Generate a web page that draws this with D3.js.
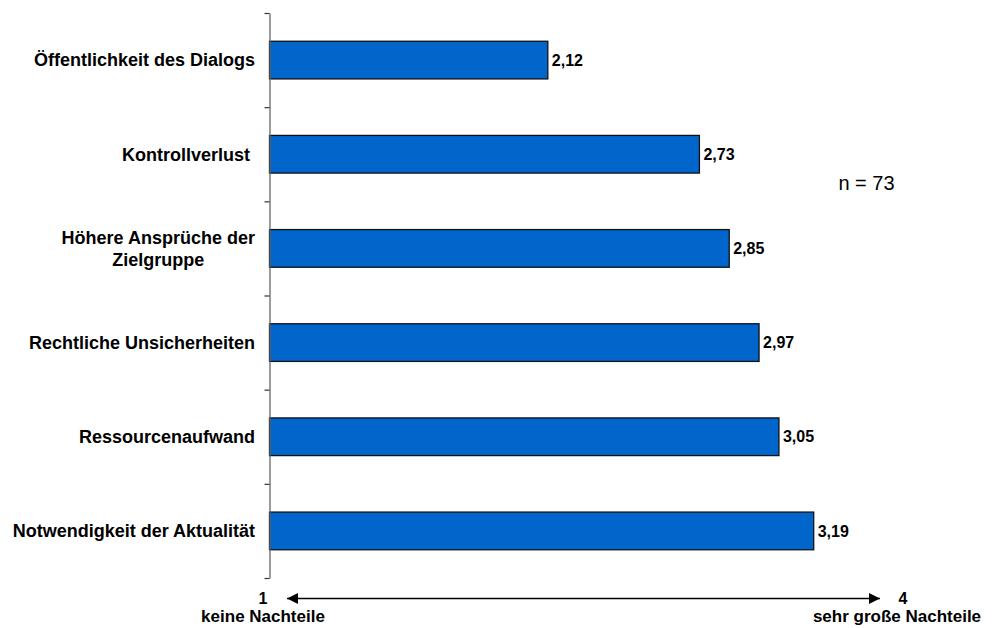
<!DOCTYPE html>
<html><head><meta charset="utf-8">
<script src="https://cdn.jsdelivr.net/npm/d3@7"></script>
<style>body{margin:0;background:#fff}svg{display:block}</style>
</head><body>
<svg id="c" width="1002" height="628"></svg>
<script>
const categories = [
  ["Öffentlichkeit des Dialogs"],
  ["Kontrollverlust\u00a0"],
  ["Höhere Ansprüche der", "Zielgruppe"],
  ["Rechtliche Unsicherheiten"],
  ["Ressourcenaufwand"],
  ["Notwendigkeit der Aktualität"]
];
const values = [2.12, 2.73, 2.85, 2.97, 3.05, 3.19];
const valueLabels = ["2,12", "2,73", "2,85", "2,97", "3,05", "3,19"];
const scaleEnds = [{v: "1", text: "keine Nachteile"}, {v: "4", text: "sehr große Nachteile"}];
const nLabel = "n = 73";

(function() {
const svg = d3.select("#c");
const font = "'Liberation Sans', Arial, sans-serif";
const plotTop = 13, plotBottom = 578, axisX = 269.5;

const x = d3.scaleLinear().domain([1, 4]).range([axisX, axisX + 3 * 248.5]);
const y = d3.scaleBand().domain(d3.range(categories.length)).range([plotTop, plotBottom]).paddingInner(0.6).paddingOuter(0.3);
const yTicks = d3.scaleLinear().domain([0, categories.length]).range([plotTop, plotBottom]);

svg.selectAll("rect.bar").data(values).join("rect")
  .attr("class", "bar")
  .attr("x", x(1))
  .attr("y", (d, i) => y(i))
  .attr("width", d => x(d) - x(1))
  .attr("height", y.bandwidth())
  .attr("fill", "#0066cc")
  .attr("stroke", "#111")
  .attr("stroke-width", 1.3);

const ax = svg.append("g").attr("transform", `translate(${axisX},0)`)
  .call(d3.axisLeft(yTicks).ticks(categories.length).tickSize(5).tickSizeOuter(0).tickFormat(""));
ax.select(".domain").attr("stroke", "#666").attr("stroke-width", 1.3);
ax.selectAll(".tick line").attr("stroke", "#333").attr("stroke-width", 1.2);

const lab = svg.selectAll("text.cat").data(categories).join("text")
  .attr("class", "cat")
  .attr("font-family", font).attr("font-weight", "bold").attr("font-size", 18)
  .attr("fill", "#000")
  .attr("transform", (d, i) => `translate(255,${y(i) + y.bandwidth() / 2})`);
lab.each(function(lines) {
  const t = d3.select(this);
  const lh = 22;
  const tmp = t.append("tspan").text(lines[0]);
  const widths = lines.map(l => { tmp.text(l); return tmp.node().getComputedTextLength(); });
  tmp.remove();
  const maxW = d3.max(widths);
  lines.forEach((l, k) => {
    t.append("tspan")
      .attr("x", -maxW / 2)
      .attr("text-anchor", "middle")
      .attr("y", (k - (lines.length - 1) / 2) * lh)
      .attr("dy", "0.35em")
      .text(l);
  });
});

svg.selectAll("text.val").data(values).join("text")
  .attr("class", "val")
  .attr("x", d => x(d) + 4)
  .attr("y", (d, i) => y(i) + y.bandwidth() / 2)
  .attr("dy", "0.35em")
  .attr("font-family", font).attr("font-weight", "bold").attr("font-size", 16)
  .text((d, i) => valueLabels[i]);

svg.append("text").attr("x", 866.5).attr("y", 183).attr("dy", "0.35em")
  .attr("text-anchor", "middle")
  .attr("font-family", font).attr("font-size", 20).text(nLabel);

const arrowY = 598.5;
const defs = svg.append("defs");
defs.append("marker").attr("id", "ah").attr("viewBox", "0 0 10 10")
  .attr("refX", 10).attr("refY", 5).attr("markerWidth", 16).attr("markerHeight", 11)
  .attr("markerUnits", "userSpaceOnUse").attr("orient", "auto-start-reverse")
  .append("path").attr("d", "M0,0L10,5L0,10Z").attr("fill", "#000");
svg.append("line").attr("x1", 287).attr("x2", 880).attr("y1", arrowY).attr("y2", arrowY)
  .attr("stroke", "#000").attr("stroke-width", 1.3)
  .attr("marker-start", "url(#ah)").attr("marker-end", "url(#ah)");

const endX = [263, 897];
const endNumX = [263, 903];
scaleEnds.forEach((e, i) => {
  svg.append("text").attr("x", endNumX[i]).attr("y", 604).attr("text-anchor", "middle")
    .attr("font-family", font).attr("font-weight", "bold").attr("font-size", 16).text(e.v);
  svg.append("text").attr("x", endX[i]).attr("y", 622).attr("text-anchor", "middle")
    .attr("font-family", font).attr("font-weight", "bold").attr("font-size", 17).text(e.text);
});
})();
</script>
</body></html>
